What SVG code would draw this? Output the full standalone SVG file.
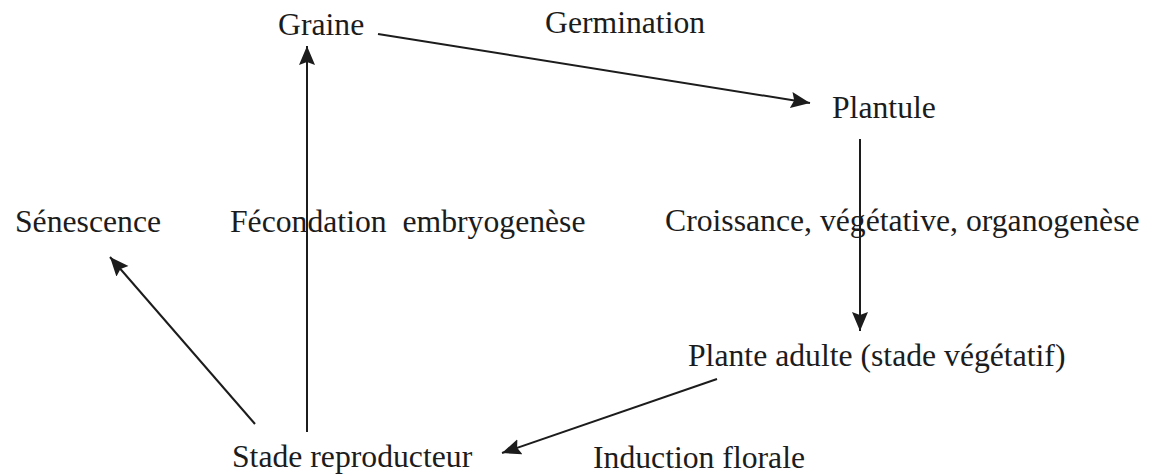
<svg xmlns="http://www.w3.org/2000/svg" width="1154" height="476" viewBox="0 0 1154 476">
<defs>
<style>
.t{font-family:"Liberation Serif","Times New Roman",serif;font-size:31.7px;fill:#1c1c1c}
.c{stroke:#1c1c1c;stroke-width:2;fill:none}
</style>
<marker id="ah" markerUnits="userSpaceOnUse" markerWidth="22" markerHeight="18" refX="19" refY="8" orient="auto">
<path d="M0,0 L19,8 L0,16 L3,8 z" fill="#1c1c1c"/>
</marker>
</defs>
<rect width="1154" height="476" fill="#ffffff"/>
<g id="connectors">
<line class="c" x1="378" y1="34" x2="810" y2="103" marker-end="url(#ah)"/>
<line class="c" x1="860" y1="139" x2="860" y2="331" marker-end="url(#ah)"/>
<line class="c" x1="717" y1="379" x2="502" y2="453" marker-end="url(#ah)"/>
<line class="c" x1="307" y1="432" x2="307" y2="46" marker-end="url(#ah)"/>
<line class="c" x1="255" y1="424" x2="110" y2="257" marker-end="url(#ah)"/>
</g>
<g id="graine"><text class="t" x="278" y="35">Graine</text></g>
<g id="germination"><text class="t" x="545" y="33">Germination</text></g>
<g id="plantule"><text class="t" x="832" y="118">Plantule</text></g>
<g id="croissance"><text class="t" x="665" y="231">Croissance, végétative, organogenèse</text></g>
<g id="plante-adulte"><text class="t" x="688" y="366">Plante adulte (stade végétatif)</text></g>
<g id="induction"><text class="t" x="593" y="468">Induction florale</text></g>
<g id="stade-reproducteur"><text class="t" x="232" y="467">Stade reproducteur</text></g>
<g id="senescence"><text class="t" x="15" y="232">Sénescence</text></g>
<g id="fecondation"><text class="t" x="230" y="232" xml:space="preserve">Fécondation  embryogenèse</text></g>
</svg>
